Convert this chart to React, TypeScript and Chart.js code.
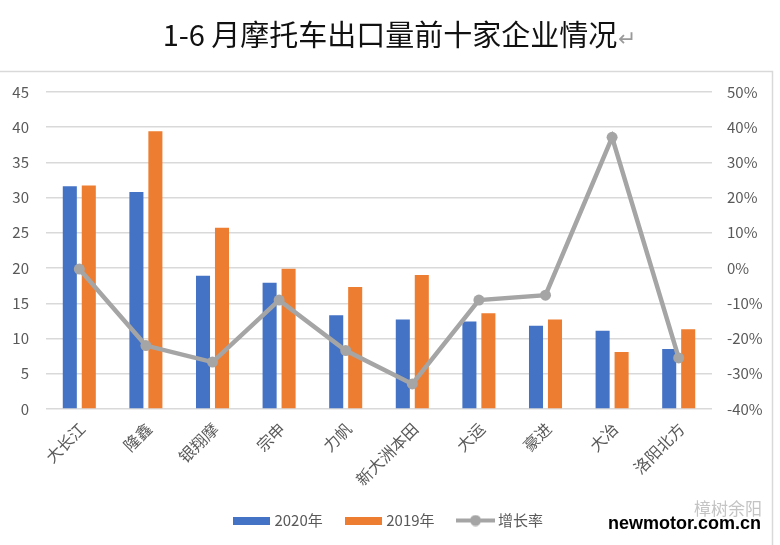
import React, { useEffect, useRef } from "react";
import { Chart, registerables } from "chart.js";

Chart.register(...registerables);

const categories = ["大长江", "隆鑫", "银翔摩", "宗申", "力帆", "新大洲本田", "大运", "豪进", "大冶", "洛阳北方"];
const sales2020 = [31.6, 30.8, 18.9, 17.9, 13.3, 12.7, 12.4, 11.8, 11.1, 8.5];
const sales2019 = [31.7, 39.4, 25.7, 19.9, 17.3, 19.0, 13.6, 12.7, 8.1, 11.3];
const growthRate = [-0.3, -22, -26.7, -9.1, -23.4, -32.9, -9.1, -7.7, 37.1, -25.5];
const leftTicks = { min: 0, max: 45, step: 5 };
const rightTicks = { min: -40, max: 50, step: 10 };
const titleText = "1-6 月摩托车出口量前十家企业情况";
const seriesNames = ["2020年", "2019年", "增长率"];

const BLUE = "#4472C4";
const ORANGE = "#ED7D31";
const GRAY = "#A5A5A5";
const FONT = "'Noto Sans CJK SC', 'Noto Sans', sans-serif";
const TITLE_SIZE = 29;

function makeRectIcon(color: string) {
  const c = document.createElement("canvas");
  c.width = 37;
  c.height = 8;
  const g = c.getContext("2d")!;
  g.fillStyle = color;
  g.fillRect(0, 0, 37, 8);
  return c;
}

function makeLineIcon(color: string) {
  const c = document.createElement("canvas");
  c.width = 39;
  c.height = 12;
  const g = c.getContext("2d")!;
  g.strokeStyle = color;
  g.lineWidth = 4;
  g.beginPath();
  g.moveTo(0, 6);
  g.lineTo(39, 6);
  g.stroke();
  g.fillStyle = color;
  g.beginPath();
  g.arc(19.5, 6, 5.5, 0, Math.PI * 2);
  g.fill();
  return c;
}

export default function App() {
  const ref = useRef<HTMLCanvasElement | null>(null);

  useEffect(() => {
    if (!ref.current) return;
    const icons = [makeRectIcon(BLUE), makeRectIcon(ORANGE), makeLineIcon(GRAY)];

    const framePlugin = {
      id: "frameAndMarks",
      beforeDraw(chart: any) {
        const ctx = chart.ctx;
        ctx.save();
        ctx.fillStyle = "#ffffff";
        ctx.fillRect(0, 0, chart.width, chart.height);
        ctx.strokeStyle = "#d9d9d9";
        ctx.lineWidth = 1.5;
        ctx.beginPath();
        ctx.moveTo(0, 71.5);
        ctx.lineTo(772.5, 71.5);
        ctx.lineTo(772.5, chart.height);
        ctx.stroke();
        ctx.restore();
      },
      afterDraw(chart: any) {
        const ctx = chart.ctx;
        ctx.save();
        ctx.font = `${TITLE_SIZE}px ${FONT}`;
        const w = ctx.measureText(titleText).width;
        const tb = chart.titleBlock;
        const cy = tb.top + tb.options.padding.top + (TITLE_SIZE * 1.2) / 2;
        ctx.fillStyle = "#9a9a9a";
        ctx.textBaseline = "middle";
        ctx.textAlign = "left";
        ctx.font = `22px ${FONT}`;
        ctx.fillText("↵", chart.width / 2 + w / 2 + 1, cy + 2);
        // watermark
        ctx.font = `17px ${FONT}`;
        ctx.fillStyle = "#c4c4c4";
        ctx.textAlign = "right";
        ctx.fillText("樟树余阳", 762, 509);
        ctx.font = "bold 18px 'Liberation Sans', Arial, sans-serif";
        ctx.fillStyle = "#000000";
        ctx.fillText("newmotor.com.cn", 761, 524);
        ctx.restore();
      },
    };

    const chart = new Chart(ref.current, {
      type: "bar",
      data: {
        labels: categories,
        datasets: [
          {
            type: "bar",
            label: seriesNames[0],
            data: sales2020,
            backgroundColor: BLUE,
            yAxisID: "y",
            order: 1,
            categoryPercentage: 0.57,
            barPercentage: 0.74,
          },
          {
            type: "bar",
            label: seriesNames[1],
            data: sales2019,
            backgroundColor: ORANGE,
            yAxisID: "y",
            order: 1,
            categoryPercentage: 0.57,
            barPercentage: 0.74,
          },
          {
            type: "line",
            label: seriesNames[2],
            data: growthRate,
            borderColor: GRAY,
            backgroundColor: GRAY,
            borderWidth: 4.5,
            pointRadius: 5.5,
            pointBackgroundColor: GRAY,
            pointBorderWidth: 0,
            yAxisID: "y1",
            order: 0,
            tension: 0,
          } as any,
        ],
      },
      options: {
        animation: false,
        responsive: false,
        devicePixelRatio: 1,
        layout: { padding: { left: 0, right: 0, top: 0, bottom: 7 } },
        plugins: {
          title: {
            display: true,
            text: titleText,
            color: "#111111",
            font: { family: FONT, size: TITLE_SIZE, weight: "normal" as any, lineHeight: 1.2 },
            padding: { top: 18, bottom: 39 },
          },
          legend: {
            position: "bottom",
            labels: {
              color: "#595959",
              font: { family: FONT, size: 15 },
              usePointStyle: true,
              pointStyleWidth: 30,
              boxHeight: 15,
              padding: 26,
              generateLabels(ch: any) {
                const items = Chart.defaults.plugins.legend.labels.generateLabels(ch);
                items.sort((a: any, b: any) => a.datasetIndex - b.datasetIndex);
                items.forEach((it: any) => {
                  it.pointStyle = icons[it.datasetIndex];
                });
                return items;
              },
            },
          },
          tooltip: { enabled: false },
        },
        scales: {
          x: {
            grid: { display: false, drawTicks: false },
            border: { display: false },
            ticks: {
              color: "#595959",
              font: { family: FONT, size: 16 },
              minRotation: 45,
              maxRotation: 45,
              autoSkip: false,
              padding: 10,
              labelOffset: 3,
            },
            afterFit(axis: any) {
              axis.height = 78;
            },
          },
          y: {
            position: "left",
            min: leftTicks.min,
            max: leftTicks.max,
            grid: { color: "#d9d9d9", lineWidth: 1.5, drawTicks: false },
            border: { display: false },
            ticks: {
              stepSize: leftTicks.step,
              color: "#595959",
              font: { family: FONT, size: 15 },
              padding: 17,
            },
            afterFit(axis: any) {
              axis.width = 46;
            },
          },
          y1: {
            position: "right",
            min: rightTicks.min,
            max: rightTicks.max,
            grid: { display: false, drawTicks: false },
            border: { display: false },
            ticks: {
              stepSize: rightTicks.step,
              color: "#595959",
              font: { family: FONT, size: 15 },
              padding: 15,
              callback: (v: any) => `${v}%`,
            },
            afterFit(axis: any) {
              axis.width = 68;
            },
          },
        },
      },
      plugins: [framePlugin],
    });
    return () => chart.destroy();
  }, []);

  return (
    <div style={{ position: "fixed", left: 0, top: 0, width: 780, height: 545, background: "#fff" }}>
      <canvas ref={ref} width={780} height={545} style={{ width: 780, height: 545, display: "block" }} />
    </div>
  );
}
